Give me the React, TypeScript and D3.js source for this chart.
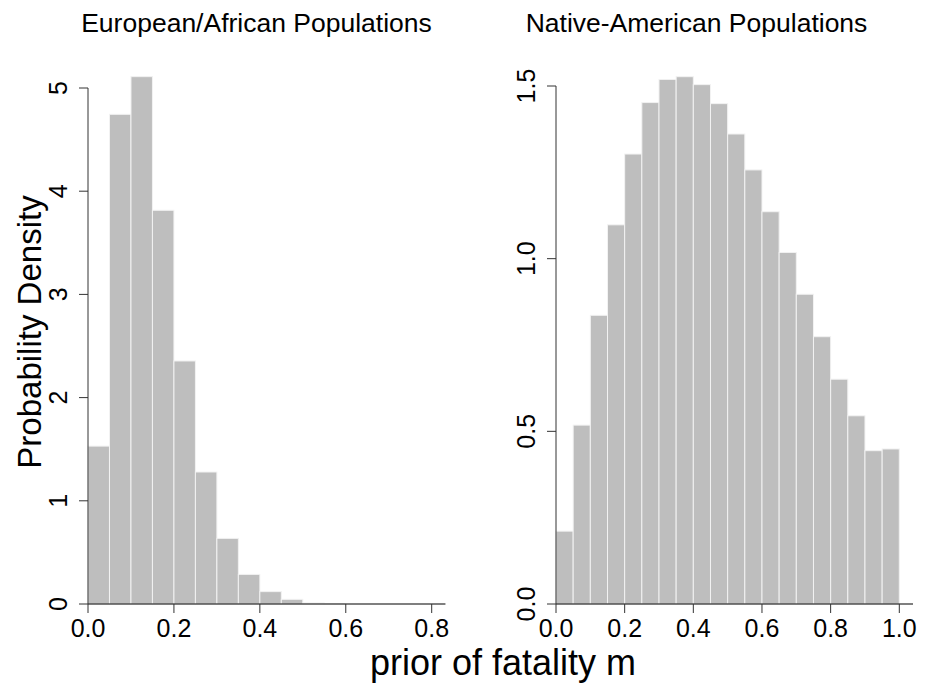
import React from 'react';
import * as d3 from 'd3';

// bin width 0.05, densities
const binWidth = 0.05;
const euroDensity = [1.53, 4.745, 5.11, 3.815, 2.355, 1.279, 0.636, 0.287, 0.12, 0.045, 0.01, 0.003];
const nativeDensity = [
  0.211, 0.518, 0.836, 1.098, 1.303, 1.452, 1.519, 1.527, 1.504, 1.449,
  1.361, 1.257, 1.136, 1.018, 0.897, 0.774, 0.651, 0.545, 0.444, 0.449,
];
const euroXTicks = [0, 0.2, 0.4, 0.6, 0.8];
const euroYTicks = [0, 1, 2, 3, 4, 5];
const nativeXTicks = [0, 0.2, 0.4, 0.6, 0.8, 1.0];
const nativeYTicks = [0, 0.5, 1.0, 1.5];

const FONT = '"Liberation Sans", Arial, Helvetica, sans-serif';
const barFill = '#bebebe';
const axisColor = '#333';

type PanelProps = {
  title: string;
  titleX: number;
  values: number[];
  x: d3.ScaleLinear<number, number>;
  y: d3.ScaleLinear<number, number>;
  xTicks: number[];
  yTicks: number[];
  yFmt: (v: number) => string;
};

const Panel = ({ title, titleX, values, x, y, xTicks, yTicks, yFmt }: PanelProps) => {
  const [x0, x1] = x.domain();
  const pad = (x1 - x0) * 0.04;
  const y0 = y(0);
  return (
    <g>
      <text x={titleX} y={32} textAnchor="middle" fontSize={26.5} fontFamily={FONT}>
        {title}
      </text>
      {values.map((v, i) => (
        <rect
          key={i}
          x={x(i * binWidth)}
          y={y(v)}
          width={x((i + 1) * binWidth) - x(i * binWidth)}
          height={y0 - y(v)}
          fill={barFill}
          stroke="#f2f2f2"
          strokeWidth={1}
        />
      ))}
      {/* baseline */}
      <line x1={x(0)} x2={x(x1 + pad)} y1={y0} y2={y0} stroke="#000" strokeWidth={1.2} />
      {/* x axis ticks */}
      {xTicks.map((t) => (
        <g key={t} transform={`translate(${x(t)},${y0})`}>
          <line y1={0} y2={9} stroke={axisColor} />
          <text y={33} textAnchor="middle" fontSize={25} fontFamily={FONT}>
            {d3.format('.1f')(t)}
          </text>
        </g>
      ))}
      {/* y axis */}
      <line
        x1={x(0)}
        x2={x(0)}
        y1={y(0)}
        y2={y(yTicks[yTicks.length - 1])}
        stroke={axisColor}
        strokeWidth={1}
      />
      {yTicks.map((t) => (
        <g key={t} transform={`translate(${x(0)},${y(t)})`}>
          <line x1={0} x2={-9} stroke={axisColor} />
          <text
            transform="translate(-21,0) rotate(-90)"
            textAnchor="middle"
            fontSize={25}
            fontFamily={FONT}
          >
            {yFmt(t)}
          </text>
        </g>
      ))}
    </g>
  );
};

export default function App() {
  const xL = d3.scaleLinear().domain([0, 0.8]).range([88, 431.7]);
  const yL = d3.scaleLinear().domain([0, 5]).range([604, 88]);
  const xR = d3.scaleLinear().domain([0, 1]).range([556, 899.3]);
  const yR = d3.scaleLinear().domain([0, 1.5]).range([604, 86]);

  return (
    <svg
      width={926}
      height={692}
      style={{ position: 'absolute', left: 0, top: 0, background: '#fff' }}
    >
      <Panel
        title="European/African Populations"
        titleX={256.5}
        values={euroDensity}
        x={xL}
        y={yL}
        xTicks={euroXTicks}
        yTicks={euroYTicks}
        yFmt={(v) => String(v)}
      />
      <Panel
        title="Native-American Populations"
        titleX={696.5}
        values={nativeDensity}
        x={xR}
        y={yR}
        xTicks={nativeXTicks}
        yTicks={nativeYTicks}
        yFmt={d3.format('.1f')}
      />
      <text
        transform="translate(41,332) rotate(-90)"
        textAnchor="middle"
        fontSize={33}
        fontFamily={FONT}
      >
        Probability Density
      </text>
      <text x={503} y={675} textAnchor="middle" fontSize={36} fontFamily={FONT}>
        prior of fatality m
      </text>
    </svg>
  );
}
